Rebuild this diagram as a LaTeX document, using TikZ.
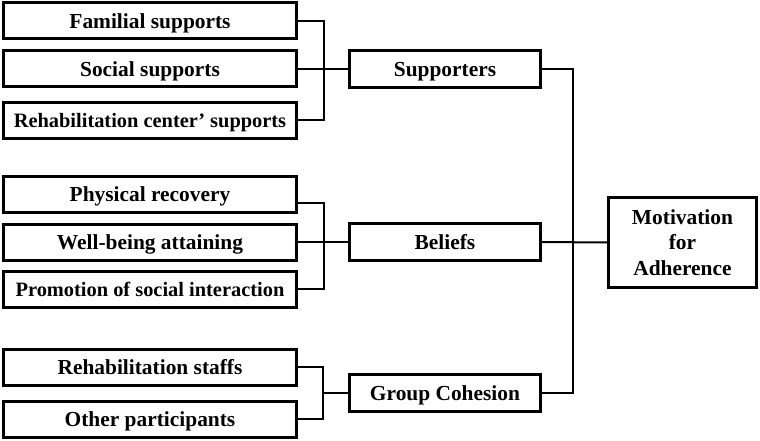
\documentclass[tikz,border=0pt]{standalone}
\usepackage{fontspec}
\setmainfont{Liberation Serif}
\usetikzlibrary{positioning}

\tikzset{
  item/.style={draw, line width=3pt, rectangle, minimum width=293pt, minimum height=36pt,
    inner sep=0pt, text height=14.5pt, text depth=0pt,
    font=\fontsize{21.4}{24}\selectfont\bfseries},
  longitem/.style={item, font=\fontsize{20.4}{24}\selectfont\bfseries},
  theme/.style={item, minimum width=191pt, minimum height=37pt},
  core/.style={item, minimum width=148pt, minimum height=90pt, align=center,
    text height=, text depth=, font=\fontsize{21.4}{25.5}\selectfont\bfseries},
  link/.style={line width=2pt}
}

\begin{document}
\begin{tikzpicture}[x=1pt,y=-1pt]
      % Page frame
      \useasboundingbox (0,0) rectangle (760,441);
      % Sub-themes on the left
      \node[item] (fam) at (150,21) {Familial supports};
      \node[item] (soc) at (150,69) {Social supports};
      \node[longitem] (rcs) at (150,120.5) {Rehabilitation center’ supports};
      \node[item] (phy) at (150,194) {Physical recovery};
      \node[item] (wel) at (150,242) {Well-being attaining};
      \node[longitem] (pro) at (150,289) {Promotion of social interaction};
      \node[item] (rst) at (150,367) {Rehabilitation staffs};
      \node[item] (oth) at (150,419) {Other participants};
      % Themes
      \node[theme] (sup) at (445,69) {Supporters};
      \node[theme] (bel) at (445,242) {Beliefs};
      \node[theme] (grp) at (445,393) {Group Cohesion};
      % Main theme
      \node[core] (mot) at (682.5,242.5) {Motivation\\for\\Adherence};
      % Junctions
      \coordinate (jS) at (324,69);
      \coordinate (jB) at (324,242);
      \coordinate (jG) at (323,393);
      \coordinate (trunk) at (573,242);
      % Brackets to the themes
      \draw[link] (fam.east) -| (jS) |- (rcs.east);
      \draw[link] (soc.east) -- (sup.west);
      \draw[link] ([yshift=-9pt]phy.east) -| (jB) |- (pro.east);
      \draw[link] (wel.east) -- (bel.west);
      \draw[link] (rst.east) -| (jG) |- (oth.east);
      \draw[link] (jG) -- (grp.west);
      % Themes to the main theme
      \draw[link] (sup.east) -| (trunk) |- (grp.east);
      \draw[link] (bel.east) -- (mot.west);
\end{tikzpicture}
\end{document}
